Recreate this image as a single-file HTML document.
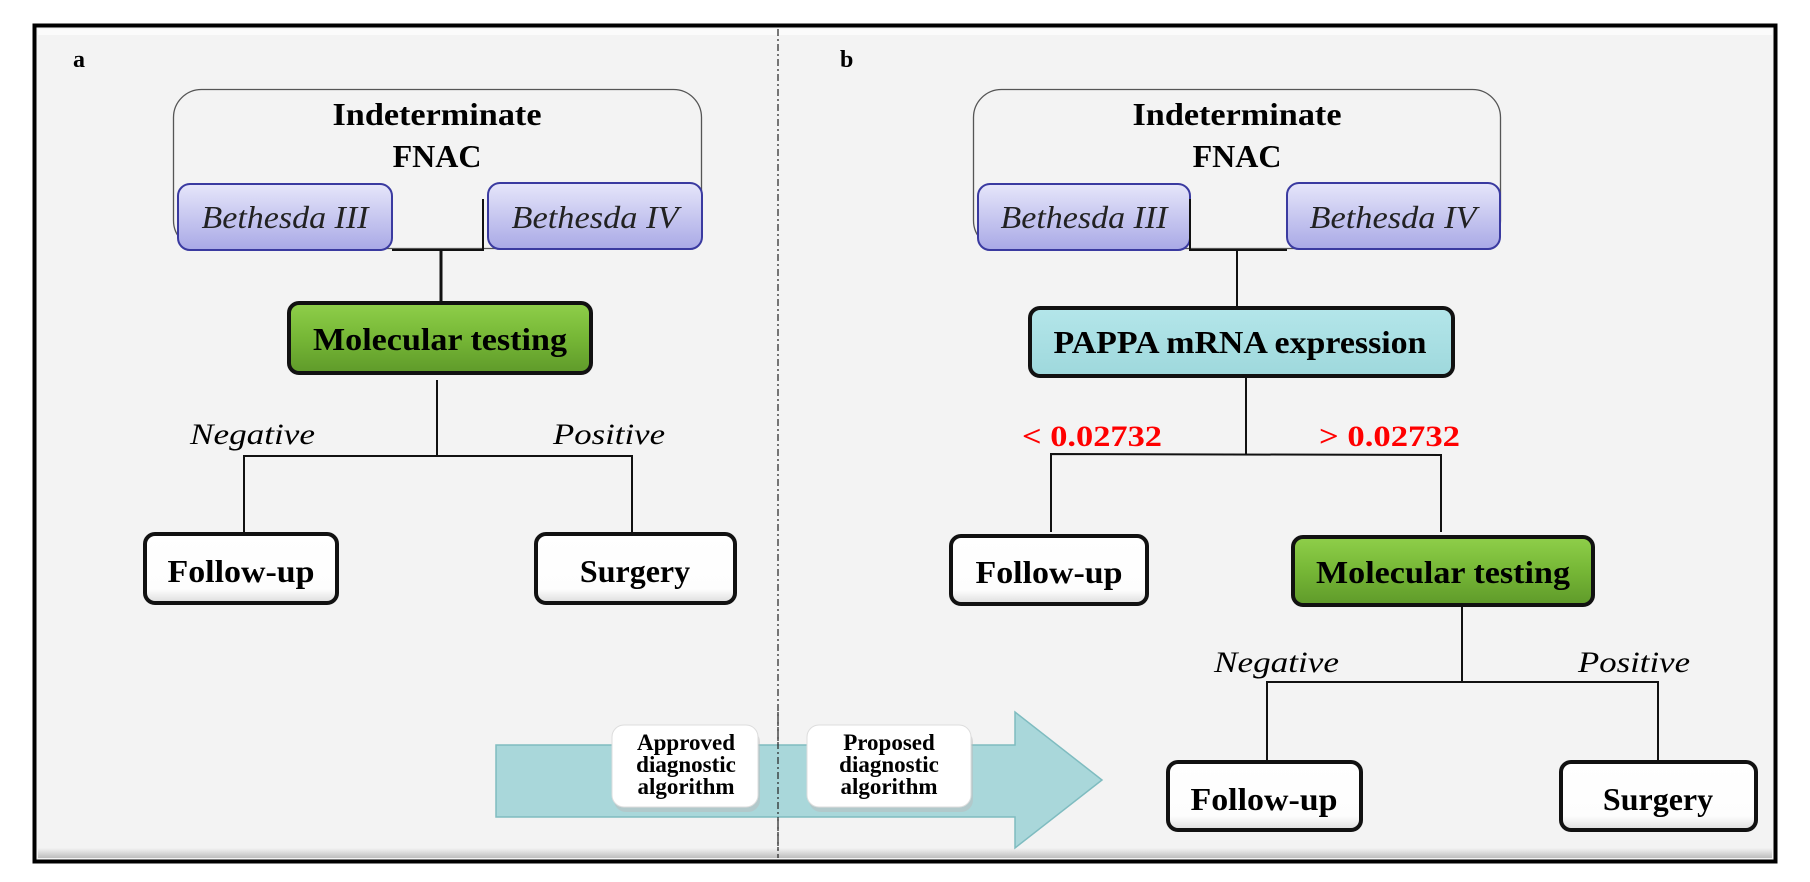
<!DOCTYPE html>
<html><head><meta charset="utf-8"><style>
html,body{margin:0;padding:0;background:#fff;}
svg{display:block;}
text{font-family:"Liberation Serif",serif;}
</style></head><body>
<svg width="1810" height="882" viewBox="0 0 1810 882" xmlns="http://www.w3.org/2000/svg">
<defs>
<linearGradient id="grn" x1="0" y1="0" x2="0" y2="1"><stop offset="0" stop-color="#8fcf4a"/><stop offset="0.5" stop-color="#76b736"/><stop offset="1" stop-color="#5f9a2a"/></linearGradient>
<linearGradient id="blu" x1="0" y1="0" x2="0" y2="1"><stop offset="0" stop-color="#e6e6fa"/><stop offset="1" stop-color="#a9a9e6"/></linearGradient>
<linearGradient id="cy" x1="0" y1="0" x2="0" y2="1"><stop offset="0" stop-color="#b4e6ea"/><stop offset="1" stop-color="#9ed8dc"/></linearGradient>
<linearGradient id="wh" x1="0" y1="0" x2="0" y2="1"><stop offset="0" stop-color="#ffffff"/><stop offset="0.8" stop-color="#fdfdfd"/><stop offset="1" stop-color="#dcdcdc"/></linearGradient>
<linearGradient id="bot" x1="0" y1="0" x2="0" y2="1"><stop offset="0" stop-color="#f3f3f3"/><stop offset="1" stop-color="#bdbdbd"/></linearGradient>
</defs>
<rect x="0" y="0" width="1810" height="882" fill="#fff"/>
<rect x="34.5" y="25.5" width="1741" height="836" fill="#f3f3f3" stroke="#000" stroke-width="4"/>
<rect x="38" y="29" width="1734" height="6" fill="#fbfbfb"/>
<rect x="38" y="848" width="1734" height="10" fill="url(#bot)"/>
<line x1="778" y1="29" x2="778" y2="858" stroke="#222" stroke-width="1.2" stroke-dasharray="7,3,2,3"/>
<text x="73" y="67" font-size="24" font-weight="bold">a</text>
<text x="840" y="67" font-size="24" font-weight="bold">b</text>

<!-- Panel a -->
<rect x="173.5" y="89.5" width="528" height="159" rx="28" fill="none" stroke="#555" stroke-width="1.3"/>
<text x="437" y="125" font-size="32" font-weight="bold" text-anchor="middle" textLength="209" lengthAdjust="spacingAndGlyphs">Indeterminate</text>
<text x="437" y="167" font-size="32" font-weight="bold" text-anchor="middle">FNAC</text>
<rect x="178" y="184" width="214" height="66" rx="12" fill="url(#blu)" stroke="#3a3aa0" stroke-width="2"/>
<rect x="488" y="183" width="214" height="66" rx="12" fill="url(#blu)" stroke="#3a3aa0" stroke-width="2"/>
<text x="285" y="228" font-size="32" font-style="italic" fill="#222" text-anchor="middle" textLength="167" lengthAdjust="spacingAndGlyphs">Bethesda III</text>
<text x="595" y="228" font-size="32" font-style="italic" fill="#222" text-anchor="middle" textLength="167" lengthAdjust="spacingAndGlyphs">Bethesda IV</text>
<polyline points="392,250 483,250 483,199" fill="none" stroke="#111" stroke-width="2"/>
<line x1="441" y1="250" x2="441" y2="302" stroke="#111" stroke-width="3"/>
<rect x="289" y="303" width="302" height="70" rx="10" fill="url(#grn)" stroke="#111" stroke-width="4"/>
<text x="440" y="350" font-size="32" font-weight="bold" text-anchor="middle" textLength="254" lengthAdjust="spacingAndGlyphs">Molecular testing</text>
<line x1="437" y1="380" x2="437" y2="456" stroke="#111" stroke-width="2"/>
<polyline points="244,532 244,456 632,456 632,532" fill="none" stroke="#111" stroke-width="2"/>
<text x="190" y="444" font-size="30" font-style="italic" textLength="125" lengthAdjust="spacingAndGlyphs">Negative</text>
<text x="553" y="444" font-size="30" font-style="italic" textLength="112" lengthAdjust="spacingAndGlyphs">Positive</text>
<rect x="145" y="534" width="192" height="69" rx="10" fill="url(#wh)" stroke="#111" stroke-width="4"/>
<text x="241" y="582" font-size="32" font-weight="bold" text-anchor="middle" textLength="147" lengthAdjust="spacingAndGlyphs">Follow-up</text>
<rect x="536" y="534" width="199" height="69" rx="10" fill="url(#wh)" stroke="#111" stroke-width="4"/>
<text x="635" y="582" font-size="32" font-weight="bold" text-anchor="middle">Surgery</text>

<!-- Panel b -->
<rect x="973.5" y="89.5" width="527" height="159" rx="28" fill="none" stroke="#555" stroke-width="1.3"/>
<text x="1237" y="125" font-size="32" font-weight="bold" text-anchor="middle" textLength="209" lengthAdjust="spacingAndGlyphs">Indeterminate</text>
<text x="1237" y="167" font-size="32" font-weight="bold" text-anchor="middle">FNAC</text>
<rect x="978" y="184" width="212" height="66" rx="12" fill="url(#blu)" stroke="#3a3aa0" stroke-width="2"/>
<rect x="1287" y="183" width="213" height="66" rx="12" fill="url(#blu)" stroke="#3a3aa0" stroke-width="2"/>
<text x="1084" y="228" font-size="32" font-style="italic" fill="#222" text-anchor="middle" textLength="167" lengthAdjust="spacingAndGlyphs">Bethesda III</text>
<text x="1393" y="228" font-size="32" font-style="italic" fill="#222" text-anchor="middle" textLength="167" lengthAdjust="spacingAndGlyphs">Bethesda IV</text>
<polyline points="1190,199 1190,250 1287,250" fill="none" stroke="#111" stroke-width="2"/>
<line x1="1237" y1="250" x2="1237" y2="307" stroke="#111" stroke-width="2"/>
<rect x="1030" y="308" width="423" height="68" rx="10" fill="url(#cy)" stroke="#111" stroke-width="4"/>
<text x="1240" y="353" font-size="32" font-weight="bold" text-anchor="middle" textLength="373" lengthAdjust="spacingAndGlyphs">PAPPA mRNA expression</text>
<line x1="1246" y1="378" x2="1246" y2="455" stroke="#111" stroke-width="2"/>
<polyline points="1051,532 1051,454 1441,455 1441,532" fill="none" stroke="#111" stroke-width="2"/>
<text x="1022" y="446" font-size="30" font-weight="bold" fill="#ff0000" textLength="140" lengthAdjust="spacingAndGlyphs">&lt; 0.02732</text>
<text x="1319" y="446" font-size="30" font-weight="bold" fill="#ff0000" textLength="141" lengthAdjust="spacingAndGlyphs">&gt; 0.02732</text>
<rect x="951" y="536" width="196" height="68" rx="10" fill="url(#wh)" stroke="#111" stroke-width="4"/>
<text x="1049" y="583" font-size="32" font-weight="bold" text-anchor="middle" textLength="147" lengthAdjust="spacingAndGlyphs">Follow-up</text>
<rect x="1293" y="537" width="300" height="68" rx="10" fill="url(#grn)" stroke="#111" stroke-width="4"/>
<text x="1443" y="583" font-size="32" font-weight="bold" text-anchor="middle" textLength="254" lengthAdjust="spacingAndGlyphs">Molecular testing</text>
<line x1="1462" y1="607" x2="1462" y2="682" stroke="#111" stroke-width="2"/>
<polyline points="1267,760 1267,682 1658,682 1658,760" fill="none" stroke="#111" stroke-width="2"/>
<text x="1214" y="672" font-size="30" font-style="italic" textLength="125" lengthAdjust="spacingAndGlyphs">Negative</text>
<text x="1578" y="672" font-size="30" font-style="italic" textLength="112" lengthAdjust="spacingAndGlyphs">Positive</text>
<rect x="1168" y="762" width="193" height="68" rx="10" fill="url(#wh)" stroke="#111" stroke-width="4"/>
<text x="1264" y="810" font-size="32" font-weight="bold" text-anchor="middle" textLength="147" lengthAdjust="spacingAndGlyphs">Follow-up</text>
<rect x="1561" y="762" width="195" height="68" rx="10" fill="url(#wh)" stroke="#111" stroke-width="4"/>
<text x="1658" y="810" font-size="32" font-weight="bold" text-anchor="middle">Surgery</text>

<!-- big arrow -->
<polygon points="496,745 1015,745 1015,712 1102,780 1015,848 1015,817 496,817" fill="#a9d7da" stroke="#7fbcc0" stroke-width="1.5"/>
<rect x="614" y="730" width="146" height="82" rx="12" fill="#bbb" opacity="0.5"/>
<rect x="809" y="730" width="164" height="82" rx="12" fill="#bbb" opacity="0.5"/>
<rect x="612" y="725" width="146" height="82" rx="12" fill="#fff" stroke="#ddd" stroke-width="1"/>
<rect x="807" y="725" width="164" height="82" rx="12" fill="#fff" stroke="#ddd" stroke-width="1"/>
<line x1="778" y1="712" x2="778" y2="850" stroke="#222" stroke-width="1.2" stroke-dasharray="7,3,2,3"/>
<g font-size="23" font-weight="bold" text-anchor="middle">
<text x="686" y="750">Approved</text><text x="686" y="772">diagnostic</text><text x="686" y="794">algorithm</text>
<text x="889" y="750">Proposed</text><text x="889" y="772">diagnostic</text><text x="889" y="794">algorithm</text>
</g>
</svg>
</body></html>
